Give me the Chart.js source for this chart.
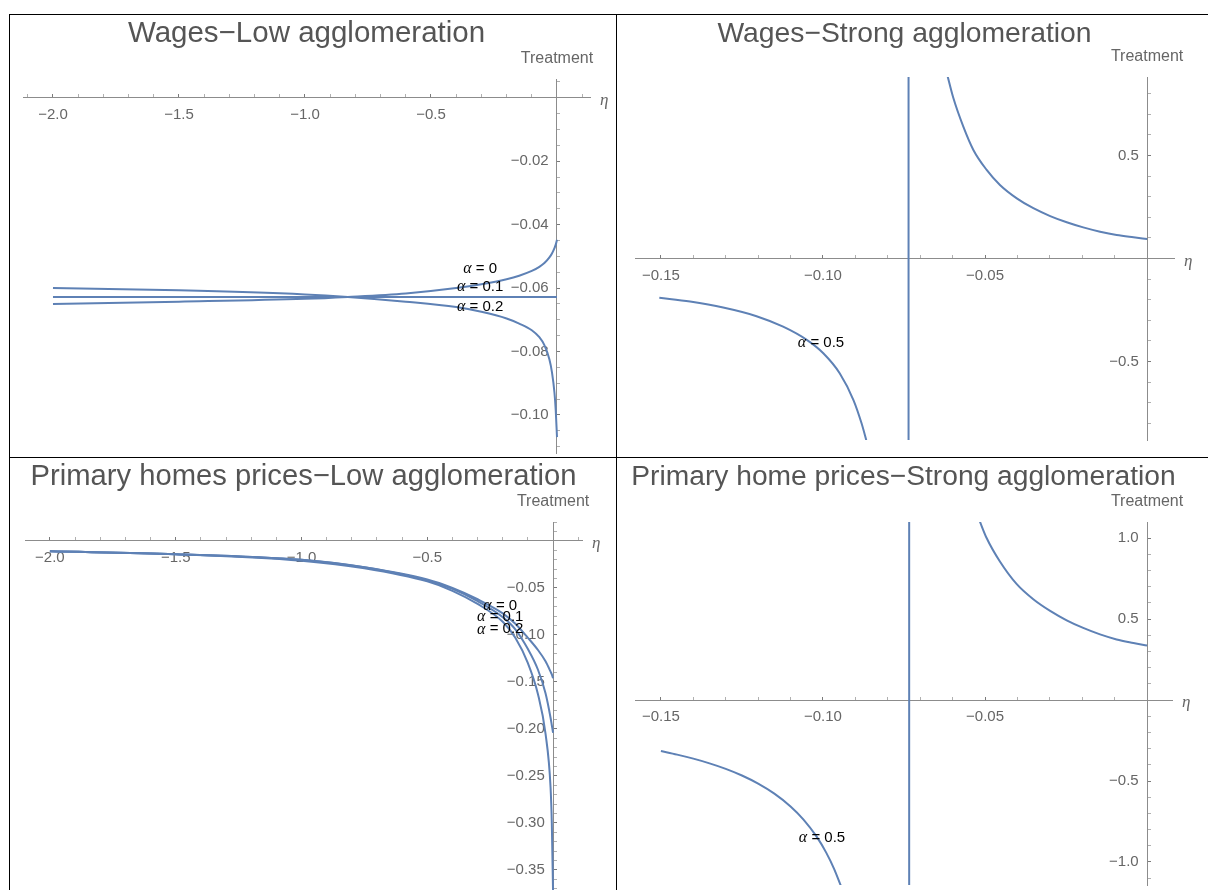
<!DOCTYPE html>
<html>
<head>
<meta charset="utf-8">
<script src="https://cdn.jsdelivr.net/npm/chart.js@4.4.0/dist/chart.umd.min.js"></script>
<style>
  html, body { margin: 0; padding: 0; background: #fff; }
  body { width: 1208px; height: 890px; position: relative; overflow: hidden; }
  canvas { position: absolute; }
  .rule { position: absolute; background: #000; z-index: 5; }
</style>
</head>
<body>
<div class="rule" style="left:9px;top:14px;width:1199px;height:1px"></div>
<div class="rule" style="left:9px;top:457px;width:1199px;height:1px"></div>
<div class="rule" style="left:9px;top:14px;width:1px;height:876px"></div>
<div class="rule" style="left:616px;top:14px;width:1px;height:876px"></div>

<canvas id="wagesLow" width="605" height="450" style="left:10px;top:15px"></canvas>
<canvas id="wagesStrong" width="591" height="441" style="left:617px;top:15px"></canvas>
<canvas id="homesLow" width="605" height="444" style="left:10px;top:458px"></canvas>
<canvas id="homesStrong" width="591" height="439" style="left:617px;top:458px"></canvas>

<script>
// ---- data ----

// Wages - low agglomeration
const wagesLowEta = [-2.0, -1.5, -1.0, -0.83, -0.6, -0.4, -0.3, -0.2, -0.15, -0.1, -0.07, -0.05, -0.03, -0.02, -0.01, -0.005, 0];
const wagesLowA0  = [-0.0650, -0.0643, -0.0634, -0.0628, -0.0617, -0.0600, -0.0588, -0.0572, -0.0561, -0.0546, -0.0533, -0.0521, -0.0503, -0.0491, -0.0474, -0.0463, -0.0448];
const wagesLowA01 = [-0.0628, -0.0628, -0.0628, -0.0628, -0.0628, -0.0628, -0.0628, -0.0628, -0.0628, -0.0628, -0.0628, -0.0628, -0.0628, -0.0628, -0.0628, -0.0628, -0.0628];
const wagesLowA02 = [-0.0600, -0.0607, -0.0620, -0.0628, -0.0643, -0.0660, -0.0675, -0.0696, -0.0712, -0.0733, -0.0755, -0.0780, -0.0825, -0.0865, -0.0930, -0.0985, -0.1070];

// Wages - strong agglomeration (alpha = 0.5): two branches and the jump at the pole
const wagesStrongLeftEta  = [-0.1505, -0.141, -0.1308, -0.1205, -0.1123, -0.105, -0.0999, -0.0948, -0.0906, -0.0881, -0.0865];
const wagesStrongLeft     = [-0.19, -0.209, -0.238, -0.28, -0.331, -0.395, -0.46, -0.558, -0.687, -0.80, -0.89];
const wagesStrongRightEta = [-0.0618, -0.0598, -0.0567, -0.0536, -0.0495, -0.0454, -0.0402, -0.0351, -0.0299, -0.0248, -0.0197, -0.0145, -0.0094, -0.0042, 0];
const wagesStrongRight    = [0.90, 0.78, 0.64, 0.527, 0.43, 0.357, 0.292, 0.244, 0.206, 0.176, 0.151, 0.130, 0.114, 0.103, 0.095];
const wagesStrongPoleEta  = [-0.0736, -0.0736];
const wagesStrongPole     = [-2, 2];

// Primary homes prices - low agglomeration
const homesLowEta = [-2.0, -1.5, -1.0, -0.75, -0.5, -0.4, -0.3, -0.2, -0.15, -0.1, -0.06, -0.03, -0.01, -0.005, 0];
const homesLowA0  = [-0.011, -0.014, -0.020, -0.028, -0.041, -0.050, -0.062, -0.077, -0.088, -0.103, -0.116, -0.128, -0.139, -0.142, -0.146];
const homesLowA01 = [-0.011, -0.014, -0.020, -0.028, -0.042, -0.051, -0.064, -0.081, -0.094, -0.115, -0.137, -0.162, -0.188, -0.196, -0.204];
const homesLowA02 = [-0.011, -0.014, -0.021, -0.029, -0.043, -0.053, -0.067, -0.086, -0.103, -0.130, -0.163, -0.205, -0.262, -0.300, -0.375];

// Primary home prices - strong agglomeration (alpha = 0.5)
const homesStrongLeftEta  = [-0.150, -0.145, -0.140, -0.135, -0.130, -0.125, -0.120, -0.115, -0.110, -0.106, -0.102, -0.099, -0.0965, -0.0945];
const homesStrongLeft     = [-0.315, -0.337, -0.362, -0.391, -0.425, -0.466, -0.516, -0.578, -0.657, -0.738, -0.842, -0.942, -1.045, -1.146];
const homesStrongRightEta = [-0.0518, -0.0495, -0.0454, -0.0402, -0.0351, -0.0299, -0.0248, -0.0197, -0.0145, -0.0094, -0.0042, 0];
const homesStrongRight    = [1.113, 1.00, 0.855, 0.715, 0.622, 0.550, 0.492, 0.445, 0.405, 0.374, 0.352, 0.336];
const homesStrongPoleEta  = [-0.0734, -0.0734];
const homesStrongPole     = [-2, 2];

const titles = [
  'Wages\u2212Low agglomeration',
  'Wages\u2212Strong agglomeration',
  'Primary homes prices\u2212Low agglomeration',
  'Primary home prices\u2212Strong agglomeration'
];
const alphaLow = ['0', '0.1', '0.2'];
const alphaStrong = ['0.5'];

// ---- drawing ----
const blue = '#5e81b5';
const sans = '"Liberation Sans", Arial, sans-serif';

const pts = (xs, ys) => xs.map((v, i) => ({x: v, y: ys[i]}));
const curve = (xs, ys, smooth = true) => ({
  data: pts(xs, ys),
  showLine: true,
  borderColor: blue,
  borderWidth: 2,
  pointRadius: 0,
  fill: false,
  cubicInterpolationMode: smooth ? 'monotone' : 'default'
});

const isMajor = (v, m) => Math.abs(v / m - Math.round(v / m)) < 1e-6;
const fmt = (v, d) => (v < 0 ? '\u2212' : '') + Math.abs(v).toFixed(d);

function axis(dir, min, max, step, major, dec) {
  const horiz = dir === 'x';
  return {
    type: 'linear',
    min, max,
    position: horiz ? {y: 0} : {x: 0},
    border: {color: '#8c8c8c', width: 1},
    grid: {
      drawOnChartArea: false,
      tickLength: -4,
      tickColor: c => isMajor(c.tick.value, major) ? '#7a7a7a' : '#b0b0b0'
    },
    ticks: {
      stepSize: step,
      includeBounds: false,
      autoSkip: false,
      minRotation: 0,
      maxRotation: 0,
      padding: horiz ? 12 : 0,
      color: '#666',
      font: {family: sans, size: 15},
      callback: v => (isMajor(v, major) && Math.abs(v) > 1e-9) ? fmt(v, dec) + (horiz ? '' : '  ') : ''
    }
  };
}

const decor = {
  id: 'decor',
  afterDraw(chart, args, o) {
    const {ctx, chartArea: a} = chart;
    const sx = chart.scales.x, sy = chart.scales.y;
    const x0 = sx.getPixelForValue(0), y0 = sy.getPixelForValue(0);
    ctx.save();
    ctx.textAlign = 'center';
    ctx.textBaseline = 'alphabetic';
    ctx.fillStyle = '#555';
    ctx.font = o.size + 'px ' + sans;
    ctx.fillText(o.title, (a.left + a.right) / 2, 27);
    ctx.fillStyle = '#666';
    ctx.font = '16px ' + sans;
    ctx.fillText('Treatment', x0, a.top - 16);
    ctx.textAlign = 'left';
    ctx.textBaseline = 'middle';
    ctx.font = 'italic 17px "Liberation Serif", serif';
    ctx.fillText('\u03b7', a.right + 10, y0 + 3);
    ctx.fillStyle = '#000';
    const greek = 'italic 16px "Liberation Serif", serif';
    const rest = '15px ' + sans;
    o.labels.forEach(l => {
      const px = sx.getPixelForValue(l.x), py = sy.getPixelForValue(l.y);
      const tail = ' = ' + l.text;
      ctx.font = greek; const w1 = ctx.measureText('\u03b1').width;
      ctx.font = rest; const w2 = ctx.measureText(tail).width;
      const left = px - (w1 + w2) / 2;
      ctx.font = greek; ctx.fillText('\u03b1', left, py);
      ctx.font = rest; ctx.fillText(tail, left + w1, py);
    });
    ctx.restore();
  }
};

function plot(id, title, size, labels, padding, xs, ys, datasets) {
  new Chart(document.getElementById(id), {
    type: 'scatter',
    data: {datasets},
    options: {
      responsive: false,
      animation: false,
      devicePixelRatio: 1,
      layout: {padding},
      plugins: {
        legend: {display: false},
        tooltip: {enabled: false},
        decor: {title, size, labels}
      },
      scales: {x: xs, y: ys}
    },
    plugins: [decor]
  });
}

plot('wagesLow', titles[0], 29.5,
  [{x: -0.305, y: -0.0540, text: alphaLow[0]},
   {x: -0.305, y: -0.0597, text: alphaLow[1]},
   {x: -0.305, y: -0.0660, text: alphaLow[2]}],
  {left: 13, right: 25, top: 64, bottom: 12},
  axis('x', -2.119, 0.131, 0.1, 0.5, 1),
  axis('y', -0.1120, 0.0059, 0.005, 0.02, 2),
  [curve(wagesLowEta, wagesLowA0), curve(wagesLowEta, wagesLowA01), curve(wagesLowEta, wagesLowA02)]);

plot('wagesStrong', titles[1], 28.3,
  [{x: -0.1006, y: -0.41, text: alphaStrong[0]}],
  {left: 18, right: 34, top: 62, bottom: 16},
  axis('x', -0.158, 0.0083, 0.01, 0.05, 2),
  axis('y', -0.881, 0.881, 0.1, 0.5, 1),
  [curve(wagesStrongLeftEta, wagesStrongLeft), curve(wagesStrongRightEta, wagesStrongRight),
   curve(wagesStrongPoleEta, wagesStrongPole, false)]);

plot('homesLow', titles[2], 29.2,
  [{x: -0.21, y: -0.069, text: alphaLow[0]},
   {x: -0.21, y: -0.081, text: alphaLow[1]},
   {x: -0.21, y: -0.094, text: alphaLow[2]}],
  {left: 15, right: 33, top: 64, bottom: 12},
  axis('x', -2.099, 0.115, 0.1, 0.5, 1),
  axis('y', -0.3713, 0.0202, 0.01, 0.05, 2),
  [curve(homesLowEta, homesLowA0), curve(homesLowEta, homesLowA01), curve(homesLowEta, homesLowA02)]);

plot('homesStrong', titles[3], 28.2,
  [{x: -0.1003, y: -0.852, text: alphaStrong[0]}],
  {left: 18, right: 36, top: 64, bottom: 12},
  axis('x', -0.158, 0.0077, 0.01, 0.05, 2),
  axis('y', -1.142, 1.099, 0.1, 0.5, 1),
  [curve(homesStrongLeftEta, homesStrongLeft), curve(homesStrongRightEta, homesStrongRight),
   curve(homesStrongPoleEta, homesStrongPole, false)]);
</script>
</body>
</html>
